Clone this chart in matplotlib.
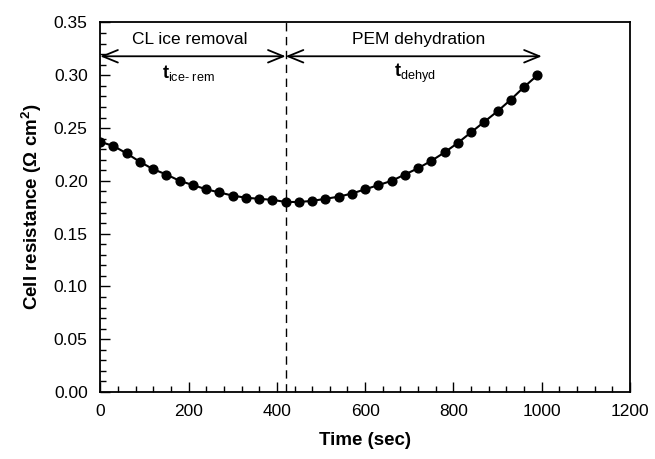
# -*- coding: utf-8 -*-
import numpy as np
import matplotlib
matplotlib.use('Agg')
import matplotlib.pyplot as plt
from matplotlib.ticker import MultipleLocator

plt.rcParams['font.family'] = ['Liberation Sans', 'DejaVu Sans']
plt.rcParams['mathtext.fontset'] = 'custom'
plt.rcParams['mathtext.rm'] = 'Liberation Sans'
plt.rcParams['mathtext.it'] = 'Liberation Sans'
plt.rcParams['mathtext.bf'] = 'Liberation Sans:bold'

# Dados
time = [0, 30, 60, 90, 120, 150, 180, 210, 240, 270, 300, 330, 360, 390,
        420, 450, 480, 510, 540, 570, 600, 630, 660, 690, 720, 750, 780,
        810, 840, 870, 900, 930, 960, 990]
resist = [0.237, 0.233, 0.226, 0.218, 0.211, 0.206, 0.200, 0.196, 0.192,
          0.189, 0.186, 0.184, 0.183, 0.182, 0.180, 0.180, 0.181, 0.183,
          0.185, 0.188, 0.192, 0.196, 0.200, 0.206, 0.212, 0.219, 0.227,
          0.236, 0.246, 0.256, 0.266, 0.277, 0.289, 0.300]

t_split = 420
t_end = 1000
y_arrow = 0.318

fig = plt.figure(figsize=(6.55, 4.59), dpi=100)
ax = fig.add_axes([0.153, 0.146, 0.809, 0.805])

ax.plot(time, resist, '-o', color='black', lw=1.5, ms=6.3)
ax.axvline(t_split, color='black', lw=1, dashes=(6, 4))

# setas
estilo = '<->,head_length=1.1,head_width=0.45'
ax.annotate('', xy=(0, y_arrow), xytext=(t_split, y_arrow),
            arrowprops=dict(arrowstyle=estilo, color='black', lw=1.3,
                            shrinkA=0, shrinkB=0))
ax.annotate('', xy=(t_split, y_arrow), xytext=(t_end, y_arrow),
            arrowprops=dict(arrowstyle=estilo, color='black', lw=1.3,
                            shrinkA=0, shrinkB=0))

ax.text(203, 0.3335, 'CL ice removal', ha='center', va='center', fontsize=12.5)
ax.text(720, 0.3335, 'PEM dehydration', ha='center', va='center', fontsize=12.5)
ax.text(200, 0.302, '$\\mathbf{t}_\\mathregular{ice\u2010\\ rem}$', ha='center', va='center', fontsize=13)
ax.text(712, 0.302, '$\\mathbf{t}_\\mathregular{dehyd}$', ha='center', va='center', fontsize=13)

ax.set_xlim(0, 1200)
ax.set_ylim(0, 0.35)
ax.xaxis.set_major_locator(MultipleLocator(200))
ax.xaxis.set_minor_locator(MultipleLocator(40))
ax.yaxis.set_major_locator(MultipleLocator(0.05))
ax.yaxis.set_minor_locator(MultipleLocator(0.01))
ax.yaxis.set_major_formatter(plt.FormatStrFormatter('%.2f'))
ax.tick_params(which='both', direction='in', labelsize=12.5, width=1)
ax.tick_params(which='major', length=7, pad=9)
ax.tick_params(which='minor', length=4)
for s in ax.spines.values():
    s.set_linewidth(1.3)

ax.set_xlabel('Time (sec)', fontsize=13.5, fontweight='bold', labelpad=9)
ax.set_ylabel(r'Cell resistance (Ω cm$^\mathbf{2}$)', fontsize=13.5, fontweight='bold', labelpad=7)

plt.savefig('out.png', dpi=100)
